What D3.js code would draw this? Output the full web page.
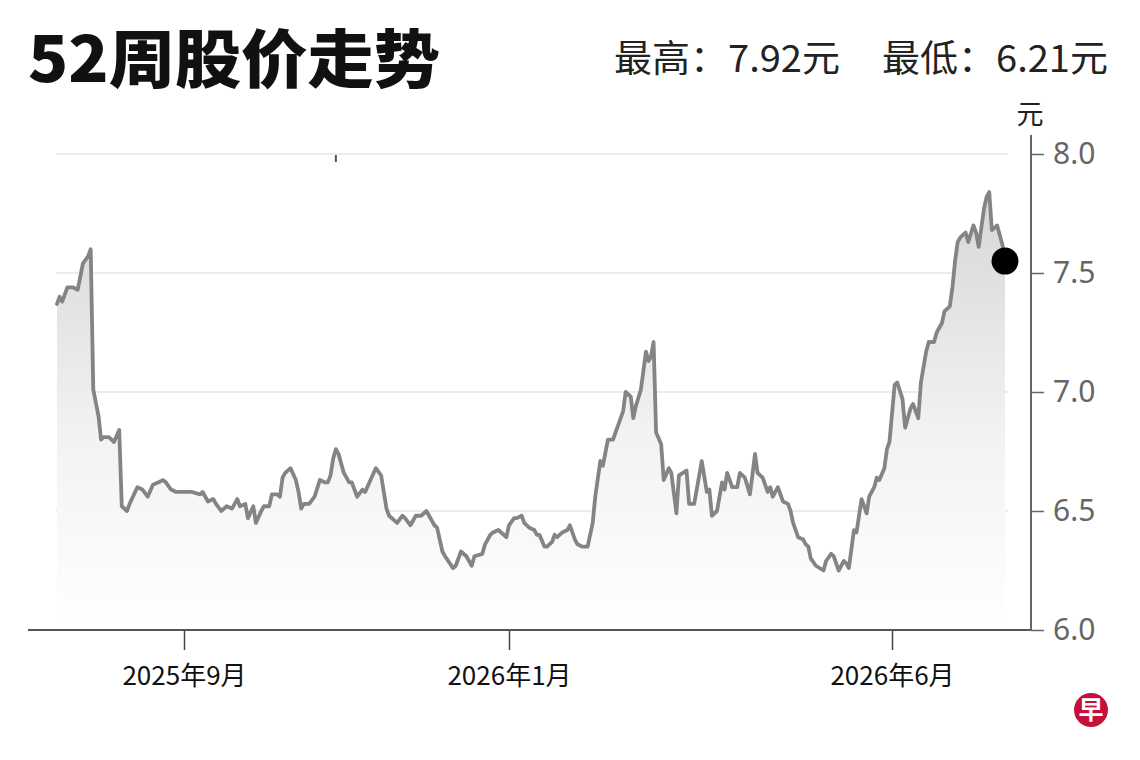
<!DOCTYPE html>
<html><head><meta charset="utf-8">
<script src="https://cdn.jsdelivr.net/npm/d3@7"></script>
<style>html,body{margin:0;padding:0;background:#fff}svg{display:block}</style>
</head><body>
<script>
const dates = [
"2025-07-14","2025-07-15","2025-07-16","2025-07-18","2025-07-20","2025-07-22","2025-07-24","2025-07-26","2025-07-27","2025-07-28",
"2025-07-30","2025-07-31","2025-08-01","2025-08-03","2025-08-05","2025-08-07","2025-08-08","2025-08-10","2025-08-11","2025-08-14",
"2025-08-16","2025-08-18","2025-08-20","2025-08-22","2025-08-24","2025-08-25","2025-08-27","2025-08-29","2025-08-31","2025-09-04",
"2025-09-07","2025-09-08","2025-09-10","2025-09-12","2025-09-13","2025-09-15","2025-09-17","2025-09-19","2025-09-21","2025-09-22",
"2025-09-24","2025-09-25","2025-09-27","2025-09-28","2025-09-30","2025-10-01","2025-10-03","2025-10-04","2025-10-06","2025-10-07",
"2025-10-08","2025-10-09","2025-10-11","2025-10-13","2025-10-14","2025-10-15","2025-10-16","2025-10-18","2025-10-20","2025-10-22",
"2025-10-24","2025-10-25","2025-10-26","2025-10-27","2025-10-28","2025-10-29","2025-10-30","2025-10-31","2025-11-02","2025-11-03",
"2025-11-05","2025-11-07","2025-11-08","2025-11-10","2025-11-12","2025-11-14","2025-11-16","2025-11-17","2025-11-20","2025-11-22",
"2025-11-23","2025-11-25","2025-11-27","2025-11-29","2025-12-01","2025-12-02","2025-12-04","2025-12-05","2025-12-07","2025-12-08",
"2025-12-11","2025-12-12","2025-12-14","2025-12-16","2025-12-18","2025-12-19","2025-12-22","2025-12-23","2025-12-25","2025-12-26",
"2025-12-28","2025-12-31","2026-01-01","2026-01-03","2026-01-04","2026-01-06","2026-01-07","2026-01-09","2026-01-11","2026-01-12",
"2026-01-13","2026-01-15","2026-01-16","2026-01-18","2026-01-19","2026-01-20","2026-01-22","2026-01-24","2026-01-25","2026-01-27",
"2026-01-28","2026-01-30","2026-02-01","2026-02-03","2026-02-04","2026-02-06","2026-02-07","2026-02-09","2026-02-11","2026-02-13",
"2026-02-15","2026-02-16","2026-02-18","2026-02-19","2026-02-20","2026-02-22","2026-02-24","2026-02-25","2026-02-26","2026-02-27",
"2026-02-28","2026-03-02","2026-03-03","2026-03-05","2026-03-06","2026-03-08","2026-03-09","2026-03-12","2026-03-13","2026-03-15",
"2026-03-16","2026-03-18","2026-03-20","2026-03-21","2026-03-22","2026-03-24","2026-03-26","2026-03-27","2026-03-28","2026-03-30",
"2026-04-01","2026-04-02","2026-04-04","2026-04-06","2026-04-08","2026-04-09","2026-04-11","2026-04-13","2026-04-14","2026-04-15",
"2026-04-17","2026-04-19","2026-04-21","2026-04-22","2026-04-23","2026-04-25","2026-04-27","2026-04-28","2026-04-29","2026-04-30",
"2026-05-02","2026-05-05","2026-05-06","2026-05-08","2026-05-09","2026-05-11","2026-05-13","2026-05-14","2026-05-15","2026-05-17",
"2026-05-18","2026-05-20","2026-05-22","2026-05-23","2026-05-25","2026-05-26","2026-05-27","2026-05-29","2026-05-30","2026-05-31",
"2026-06-02","2026-06-03","2026-06-05","2026-06-06","2026-06-08","2026-06-09","2026-06-11","2026-06-12","2026-06-14","2026-06-15",
"2026-06-17","2026-06-18","2026-06-20","2026-06-21","2026-06-23","2026-06-24","2026-06-25","2026-06-26","2026-06-27","2026-06-28",
"2026-06-29","2026-06-30","2026-07-02","2026-07-03","2026-07-04","2026-07-05","2026-07-06","2026-07-07","2026-07-08","2026-07-09",
"2026-07-11","2026-07-12","2026-07-13","2026-07-14"
];
const prices = [
7.37,7.40,7.38,7.44,7.44,7.43,7.54,7.57,7.60,7.01,
6.90,6.80,6.81,6.81,6.79,6.84,6.52,6.50,6.53,6.60,
6.59,6.56,6.61,6.62,6.63,6.62,6.59,6.58,6.58,6.58,
6.57,6.58,6.54,6.55,6.53,6.50,6.52,6.51,6.55,6.52,
6.53,6.47,6.52,6.45,6.50,6.52,6.52,6.57,6.57,6.56,
6.64,6.66,6.68,6.63,6.58,6.51,6.53,6.53,6.56,6.63,
6.62,6.62,6.65,6.72,6.76,6.74,6.70,6.66,6.62,6.62,
6.56,6.59,6.58,6.63,6.68,6.65,6.51,6.48,6.45,6.48,
6.47,6.44,6.48,6.48,6.50,6.48,6.44,6.43,6.33,6.31,
6.26,6.27,6.33,6.31,6.27,6.31,6.32,6.36,6.40,6.41,
6.42,6.39,6.44,6.47,6.47,6.48,6.45,6.43,6.42,6.40,
6.40,6.35,6.35,6.37,6.40,6.39,6.41,6.42,6.44,6.38,
6.36,6.35,6.35,6.45,6.56,6.71,6.69,6.80,6.80,6.86,
6.92,7.00,6.98,6.89,6.94,7.01,7.17,7.13,7.15,7.21,
6.83,6.78,6.63,6.68,6.66,6.49,6.65,6.67,6.53,6.53,
6.59,6.71,6.58,6.59,6.48,6.50,6.62,6.59,6.66,6.60,
6.60,6.66,6.64,6.57,6.74,6.66,6.64,6.58,6.60,6.56,
6.60,6.54,6.53,6.50,6.45,6.39,6.38,6.36,6.35,6.30,
6.27,6.25,6.29,6.32,6.31,6.25,6.29,6.28,6.26,6.42,
6.41,6.55,6.49,6.56,6.60,6.64,6.63,6.68,6.76,6.79,
7.03,7.04,6.97,6.85,6.93,6.95,6.89,7.04,7.17,7.21,
7.21,7.25,7.29,7.34,7.36,7.44,7.55,7.63,7.65,7.66,
7.67,7.63,7.70,7.67,7.61,7.69,7.77,7.82,7.84,7.68,
7.70,7.66,7.62,7.55
];
const xBreakDates = ["2025-07-14","2025-09-01","2026-01-01","2026-06-01","2026-07-14"];
const xTickDates = ["2025-09-01","2026-01-01","2026-06-01"];
const xTickLabels = ["2025年9月","2026年1月","2026年6月"];
const yTicks = [6.0,6.5,7.0,7.5,8.0];
const gridValues = [6.5,7.0,7.5,8.0];
const eventDate = "2025-10-28";
const titleText = "52周股价走势";
const highText = "最高：7.92元";
const lowText = "最低：6.21元";
const unitText = "元";
const logoText = "早";

const W = 1140, H = 760;
const parse = d3.timeParse("%Y-%m-%d");
const data = dates.map((d, i) => ({date: parse(d), value: prices[i]}));

const x = d3.scaleTime().domain(xBreakDates.map(parse)).range([57, 184, 509, 892, 1005]);
const y = d3.scaleLinear().domain([6, 8]).range([630, 154]);

const svg = d3.select("body").append("svg").attr("width", W).attr("height", H)
  .style("font-family", "'Noto Sans CJK SC','Noto Sans',sans-serif");

const defs = svg.append("defs");
const grad = defs.append("linearGradient").attr("id", "fillGrad")
  .attr("gradientUnits", "userSpaceOnUse").attr("x1", 0).attr("x2", 0).attr("y1", 190).attr("y2", 630);
grad.append("stop").attr("offset", "0%").attr("stop-color", "#d6d6d6");
grad.append("stop").attr("offset", "55%").attr("stop-color", "#f2f2f2");
grad.append("stop").attr("offset", "100%").attr("stop-color", "#ffffff");

// Title & header
svg.append("text").attr("x", 28).attr("y", 82).text(titleText)
  .attr("font-size", 63).attr("font-weight", 900).attr("fill", "#111")
  .attr("textLength", 412).attr("lengthAdjust", "spacingAndGlyphs");
svg.append("text").attr("x", 614).attr("y", 72).text(highText)
  .attr("font-size", 37).attr("fill", "#222")
  .attr("textLength", 226).attr("lengthAdjust", "spacingAndGlyphs");
svg.append("text").attr("x", 882).attr("y", 72).text(lowText)
  .attr("font-size", 37).attr("fill", "#222")
  .attr("textLength", 226).attr("lengthAdjust", "spacingAndGlyphs");

// Grid lines
svg.append("g").selectAll("line").data(gridValues).join("line")
  .attr("x1", 56).attr("x2", 1008)
  .attr("y1", d => y(d)).attr("y2", d => y(d))
  .attr("stroke", "#ececec").attr("stroke-width", 2);

// Area & line
const area = d3.area().x(d => x(d.date)).y0(y(6)).y1(d => y(d.value));
svg.append("path").datum(data).attr("d", area).attr("fill", "url(#fillGrad)");

const line = d3.line().x(d => x(d.date)).y(d => y(d.value));
svg.append("path").datum(data).attr("d", line)
  .attr("fill", "none").attr("stroke", "#848484").attr("stroke-width", 3.8)
  .attr("stroke-linejoin", "round").attr("stroke-linecap", "round");

// small event mark at top
svg.append("line")
  .attr("x1", x(parse(eventDate))).attr("x2", x(parse(eventDate)))
  .attr("y1", y(8) + 1).attr("y2", y(8) + 8)
  .attr("stroke", "#555").attr("stroke-width", 2);

// X axis
const xAxis = d3.axisBottom(x).tickValues(xTickDates.map(parse))
  .tickSize(20).tickPadding(17).tickFormat((d, i) => xTickLabels[i]);
const gx = svg.append("g").attr("transform", `translate(0,${y(6)})`).call(xAxis);
gx.select(".domain").remove();
gx.selectAll(".tick line").attr("stroke", "#444").attr("stroke-width", 1.5);
gx.selectAll(".tick text").attr("font-size", 26).attr("fill", "#111")
  .attr("font-family", "'Noto Sans CJK SC',sans-serif");
svg.append("line").attr("x1", 28).attr("x2", 1031).attr("y1", y(6)).attr("y2", y(6))
  .attr("stroke", "#555").attr("stroke-width", 2);

// Y axis
const yAxis = d3.axisRight(y).tickValues(yTicks).tickSize(13).tickPadding(9)
  .tickFormat(d3.format(".1f"));
const gy = svg.append("g").attr("transform", "translate(1031,0)").call(yAxis);
gy.select(".domain").remove();
gy.selectAll(".tick line").attr("stroke", "#666").attr("stroke-width", 1.5);
gy.selectAll(".tick text").attr("font-size", 30).attr("fill", "#666")
  .attr("font-family", "'Noto Sans','Open Sans',sans-serif");
svg.append("line").attr("x1", 1031).attr("x2", 1031).attr("y1", 135).attr("y2", y(6) + 1)
  .attr("stroke", "#666").attr("stroke-width", 2);
svg.append("text").attr("x", 1030).attr("y", 124).attr("text-anchor", "middle")
  .text(unitText).attr("font-size", 27).attr("fill", "#222");

// End marker
const last = data[data.length - 1];
svg.append("circle").attr("cx", x(last.date)).attr("cy", y(last.value)).attr("r", 13.5).attr("fill", "#000");

// Logo
const logo = svg.append("g").attr("transform", "translate(1091,710)");
logo.append("circle").attr("r", 17).attr("fill", "#c4103c");
logo.append("text").attr("text-anchor", "middle").attr("y", 9).text(logoText)
  .attr("font-size", 25).attr("font-weight", 700).attr("fill", "#fff");
</script>
</body></html>
